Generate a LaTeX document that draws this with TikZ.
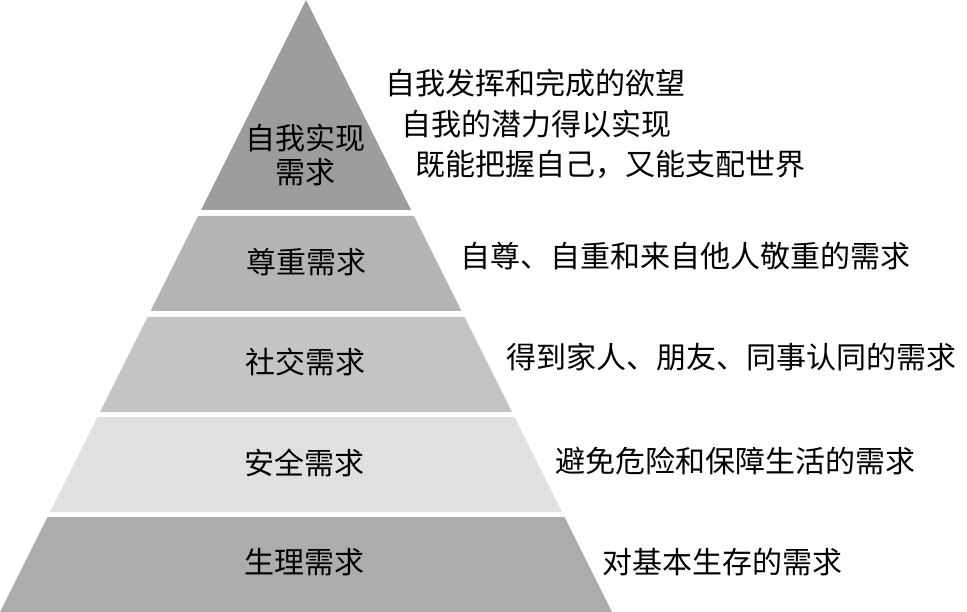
\documentclass[tikz,border=0pt]{standalone}
\usepackage{fontspec}
\newfontfamily\cjk{Noto Sans CJK SC}
\definecolor{bandA}{HTML}{9C9C9C}
\definecolor{bandB}{HTML}{B4B4B4}
\definecolor{bandC}{HTML}{C4C4C4}
\definecolor{bandD}{HTML}{E0E0E0}
\definecolor{bandE}{HTML}{ACACAC}
\begin{document}
\begin{tikzpicture}[x=1pt,y=-1pt,
  lbl/.style={font=\cjk\fontsize{30}{36}\selectfont, inner sep=0pt, text=black},
  desc/.style={lbl, anchor=west}]
\useasboundingbox (0,0) rectangle (967,612);
% bands: half-width = 0.5*y, apex at (306,0)
\fill[bandA] (306,0) -- (411,210) -- (201,210) -- cycle;
\fill[bandB] (198,216) -- (414,216) -- (461.5,311) -- (150.5,311) -- cycle;
\fill[bandC] (147.5,317) -- (464.5,317) -- (512,412) -- (100,412) -- cycle;
\fill[bandD] (97.5,417) -- (514.5,417) -- (562,512) -- (50,512) -- cycle;
\fill[bandE] (47.5,517) -- (564.5,517) -- (612,612) -- (0,612) -- cycle;
% left labels
\node[lbl, align=center] (l1) at (305,155) {自我实现\\[-2pt]需求};
\node[lbl] (l2) at (306,262) {尊重需求};
\node[lbl] (l3) at (305,362) {社交需求};
\node[lbl] (l4) at (304,463) {安全需求};
\node[lbl] (l5) at (304,562) {生理需求};
% right descriptions
\node[desc] (d1a) at (385,83) {自我发挥和完成的欲望};
\node[desc] (d1b) at (401,124) {自我的潜力得以实现};
\node[desc] (d1c) at (415,164) {既能把握自己，又能支配世界};
\node[desc] (d2) at (460,256) {自尊、自重和来自他人敬重的需求};
\node[desc] (d3) at (506,357) {得到家人、朋友、同事认同的需求};
\node[desc] (d4) at (555,461) {避免危险和保障生活的需求};
\node[desc] (d5) at (602,562) {对基本生存的需求};
\end{tikzpicture}
\end{document}
